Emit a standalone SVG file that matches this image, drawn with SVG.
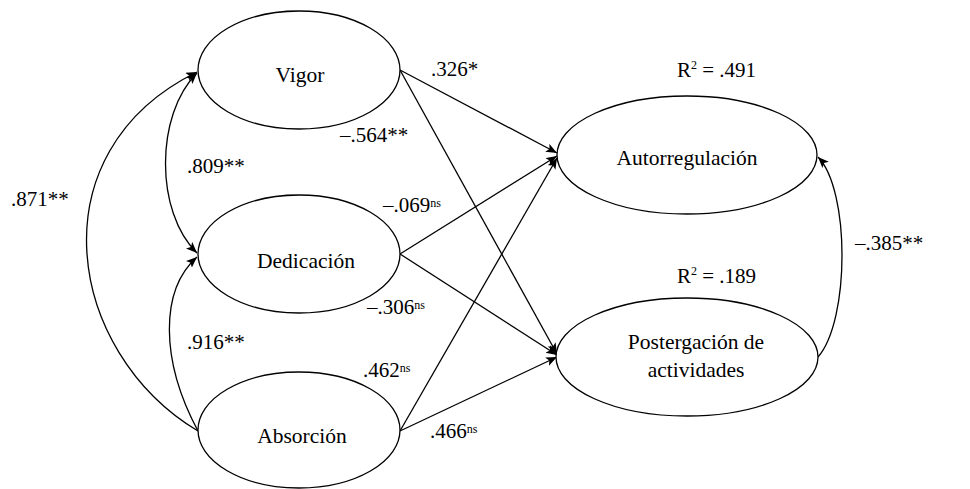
<svg xmlns="http://www.w3.org/2000/svg" width="970" height="489" viewBox="0 0 970 489">
<style>
.n{fill:#fff;stroke:#000;stroke-width:1.3}
.t{font-family:'Liberation Serif','Times New Roman',serif;font-size:21.5px;fill:#000;text-anchor:middle}
.l{font-family:'Liberation Serif','Times New Roman',serif;font-size:21px;fill:#000}
.s{font-size:12px}
.c{fill:none;stroke:#000;stroke-width:1.3}
</style>
<defs>
<marker id="ah" markerUnits="userSpaceOnUse" markerWidth="12" markerHeight="10" refX="11" refY="4.5" orient="auto-start-reverse">
<path d="M0,0 L11,4.5 L0,9 L2.5,4.5 z" fill="#000"/>
</marker>
</defs>
<g id="connectors">
<path class="c" d="M400,70 L557,153" marker-end="url(#ah)"/>
<path class="c" d="M400,70 L557,354" marker-end="url(#ah)"/>
<path class="c" d="M400,254 L557,156" marker-end="url(#ah)"/>
<path class="c" d="M400,254 L557,355" marker-end="url(#ah)"/>
<path class="c" d="M400,431 L557,158" marker-end="url(#ah)"/>
<path class="c" d="M400,431 L557,357" marker-end="url(#ah)"/>
<path class="c" d="M198,431 C66,352 34,152 197,72" marker-end="url(#ah)"/>
<path class="c" d="M197,73 C155,115 155,212 197,253" marker-start="url(#ah)" marker-end="url(#ah)"/>
<path class="c" d="M198,431 C160,360 160,290 197,257" marker-end="url(#ah)"/>
<path class="c" d="M818,357 C850,320 850,190 818,157" marker-end="url(#ah)"/>
</g>
<g id="vigor">
<ellipse class="n" cx="299" cy="70" rx="101" ry="59"/>
<text class="t" x="300" y="82">Vigor</text>
</g>
<g id="dedicacion">
<ellipse class="n" cx="299" cy="254" rx="101" ry="59"/>
<text class="t" x="306" y="268">Dedicación</text>
</g>
<g id="absorcion">
<ellipse class="n" cx="299" cy="430" rx="101" ry="58"/>
<text class="t" x="302" y="443">Absorción</text>
</g>
<g id="autorregulacion">
<ellipse class="n" cx="687" cy="155" rx="130" ry="59"/>
<text class="t" x="687" y="165">Autorregulación</text>
</g>
<g id="postergacion">
<ellipse class="n" cx="687" cy="357" rx="131" ry="59"/>
<text class="t" x="696" y="349">Postergación de</text>
<text class="t" x="696" y="377">actividades</text>
</g>
<g id="labels">
<text class="l" x="431" y="76">.326*</text>
<text class="l" x="677" y="77">R<tspan class="s" dy="-8">2</tspan><tspan dy="8"> = .491</tspan></text>
<text class="l" x="677" y="283">R<tspan class="s" dy="-8">2</tspan><tspan dy="8"> = .189</tspan></text>
<text class="l" x="340" y="142">–.564**</text>
<text class="l" x="187" y="173">.809**</text>
<text class="l" x="11" y="206">.871**</text>
<text class="l" x="383" y="212">–.069<tspan class="s" dy="-5">ns</tspan></text>
<text class="l" x="367" y="314">–.306<tspan class="s" dy="-5">ns</tspan></text>
<text class="l" x="187" y="349">.916**</text>
<text class="l" x="363" y="377">.462<tspan class="s" dy="-5">ns</tspan></text>
<text class="l" x="430" y="438">.466<tspan class="s" dy="-5">ns</tspan></text>
<text class="l" x="855" y="250">–.385**</text>
</g>
</svg>
